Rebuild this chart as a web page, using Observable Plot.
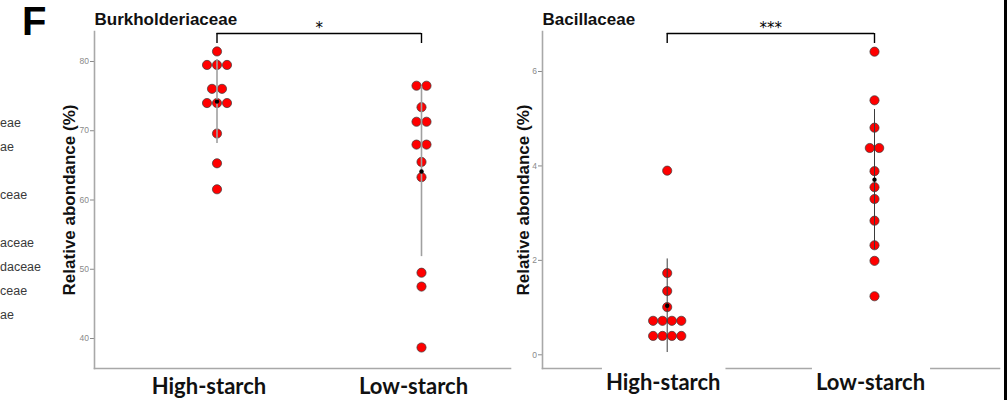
<!DOCTYPE html>
<html><head><meta charset="utf-8">
<script src="https://cdn.jsdelivr.net/npm/d3@7"></script>
<script src="https://cdn.jsdelivr.net/npm/@observablehq/plot@0.6"></script>
<style>
html,body{margin:0;padding:0;background:#fff;}
#wrap{position:relative;width:1008px;height:400px;overflow:hidden;background:#fff;font-family:"Liberation Sans",Arial,sans-serif;}
.panel{position:absolute;top:0;}
.panel svg{overflow:visible;}
#fig-letter{position:absolute;left:22px;top:-3px;font-size:40px;font-weight:bold;color:#000;line-height:48px;}
#legend{position:absolute;left:0px;top:111px;font-size:12.5px;line-height:24px;color:#3a3a3a;white-space:pre;}
#edge{position:absolute;left:1004px;top:0;width:3px;height:400px;background:#000;}
</style></head><body>
<div id="wrap">
  <div id="legend"></div>
  <div id="fig-letter"></div>
  <div id="p1" class="panel" style="left:0px"></div>
  <div id="p2" class="panel" style="left:520px"></div>
  <div id="edge"></div>
</div>
<script>
// ---- data ----
const groups = ["High-starch", "Low-starch"];
const titles = ["Burkholderiaceae", "Bacillaceae"];
const significance = ["*", "***"];
const yLabel = "Relative abondance (%)";
const panelLetter = "F";
const legendFragments = ["eae", "ae", "", "ceae", "", "aceae", "daceae", "ceae", "ae"];

const burkHigh = [81.45, 79.5, 79.5, 79.5, 76.05, 76.05, 74.0, 74.0, 74.0, 69.6, 65.3, 61.55];
const burkLow  = [76.5, 76.5, 73.4, 71.3, 71.3, 68.0, 68.0, 65.5, 63.3, 49.5, 47.5, 38.7];
const bacHigh  = [3.9, 1.73, 1.35, 1.01, 0.72, 0.72, 0.72, 0.72, 0.40, 0.40, 0.40, 0.40];
const bacLow   = [6.42, 5.39, 4.81, 4.38, 4.38, 3.89, 3.55, 3.30, 2.84, 2.32, 1.99, 1.24];

const burkTicks = [40, 50, 60, 70, 80];
const bacTicks = [0, 2, 4, 6];

// ---- static text ----
document.getElementById("fig-letter").textContent = panelLetter;
document.getElementById("legend").textContent = legendFragments.join("\n");

const H = 400, MT = 31, MB = 32;

function panel(o) {
  const rows = [];
  [o.high, o.low].forEach((vals, gi) => {
    const counts = d3.rollup(vals, v => v.length, v => v);
    const seen = new Map();
    vals.forEach(v => {
      const n = counts.get(v), k = seen.get(v) || 0;
      seen.set(v, k + 1);
      rows.push({group: groups[gi], gi, value: v, slot: k - (n - 1) / 2});
    });
  });
  const unit = o.spacing / (o.xRange[1] - o.xRange[0]);
  rows.forEach(r => r.xpos = r.gi + r.slot * unit);
  const stats = [o.high, o.low].map((vals, gi) => ({gi, mean: d3.mean(vals), sd: d3.deviation(vals)}));
  const [y0, y1] = o.yDomain, span = y1 - y0, ph = H - MT - MB;
  const bracketY = y1 - span * 2 / ph, dropY = y1 - span * 12 / ph;
  const axisStroke = "#a8a8a8";
  return Plot.plot({
    width: o.width, height: H,
    marginLeft: o.marginLeft, marginRight: o.marginRight, marginTop: MT, marginBottom: MB,
    style: {color: "#8a8a8a", fontSize: "8.5px", fontFamily: "Liberation Sans, Arial, sans-serif", background: "transparent", overflow: "visible"},
    x: {domain: [0, 1], range: o.xRange, axis: null},
    y: {domain: o.yDomain, ticks: o.ticks, tickSize: 4, tickPadding: 1.5, label: null},
    marks: [
      Plot.frame({anchor: "left", stroke: axisStroke, strokeWidth: 1.6}),
      Plot.frame({anchor: "bottom", stroke: axisStroke, strokeWidth: 1.6}),
      Plot.text([yLabel], {frameAnchor: "left", text: d => d, textAnchor: "middle", lineAnchor: "middle", rotate: -90, dx: o.yLabelDx, fontSize: 17, fontWeight: "bold", fill: "#111"}),
      Plot.dot(rows, {x: "xpos", y: "value", r: 4.6, fill: "#ff0000", stroke: "#3b3b3b", strokeWidth: 0.7}),
      Plot.ruleX(stats, {x: "gi", y1: d => d.mean - d.sd, y2: d => d.mean + d.sd, stroke: o.barColor, strokeWidth: o.barWidth}),
      Plot.dot(stats, {x: "gi", y: "mean", r: 2.2, fill: "#000"}),
      Plot.ruleY([bracketY], {y: d => d, x1: () => 0, x2: () => 1, stroke: "#000", strokeWidth: 1.4}),
      Plot.ruleX([0, 1], {x: d => d, y1: () => dropY, y2: () => bracketY, stroke: "#000", strokeWidth: 1.4}),
      Plot.text([o.sig], {x: () => 0.5, y: () => bracketY, text: d => d, lineAnchor: "bottom", dy: -1, fontFamily: "DejaVu Sans", fontSize: 15, fill: "#000"}),
      Plot.text([o.title], {frameAnchor: "top-left", text: d => d, textAnchor: "start", lineAnchor: "bottom", dy: -7, fontSize: 17, fontWeight: "bold", fill: "#111"}),
      Plot.text(groups, {x: (d, i) => i, frameAnchor: "bottom", text: d => d, textAnchor: "middle", lineAnchor: "bottom", dx: o.labelDx, dy: o.labelDy, fontFamily: "Lato", fontSize: 22, fontWeight: "bold", fill: "#111"})
    ]
  });
}

const svg1 = panel({
  high: burkHigh, low: burkLow, sig: significance[0], title: titles[0], ticks: burkTicks,
  yDomain: [35.67, 84.33], width: 520, marginLeft: 94, marginRight: 10, xRange: [216.5, 421],
  spacing: 10, barColor: "#a0a0a0", barWidth: 1.6, yLabelDx: -24.5, labelDx: -8, labelDy: 25
});
document.getElementById("p1").append(svg1);

const svg2 = panel({
  high: bacHigh, low: bacLow, sig: significance[1], title: titles[1], ticks: bacTicks,
  yDomain: [-0.29, 6.847], width: 488, marginLeft: 22, marginRight: 9, xRange: [146.7, 354],
  spacing: 9.4, barColor: "#3a3a3a", barWidth: 1, yLabelDx: -18.5, labelDx: -4, labelDy: 21
});
document.getElementById("p2").append(svg2);

// white boxes behind the second panel's group labels (they hide the axis line)
const sRect = svg2.getBoundingClientRect();
svg2.querySelectorAll("text").forEach(t => {
  if (!groups.includes(t.textContent)) return;
  const b = t.getBoundingClientRect();
  const g = t.parentNode;
  const r = document.createElementNS("http://www.w3.org/2000/svg", "rect");
  const top = H - MB - 3;
  r.setAttribute("x", b.left - sRect.left - 4);
  r.setAttribute("width", b.width + 9);
  r.setAttribute("y", top);
  r.setAttribute("height", b.bottom - sRect.top - top);
  r.setAttribute("fill", "#fff");
  g.parentNode.insertBefore(r, g);
});
</script>
</body></html>
